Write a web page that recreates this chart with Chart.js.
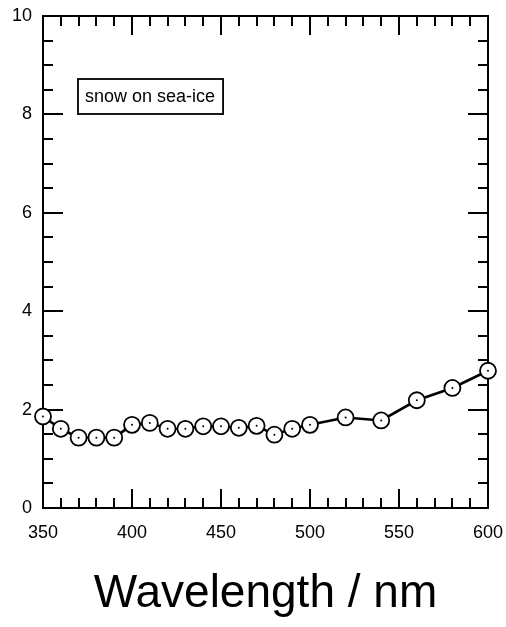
<!DOCTYPE html>
<html>
<head>
<meta charset="utf-8">
<script src="https://cdn.jsdelivr.net/npm/chart.js@4/dist/chart.umd.min.js"></script>
<style>
  html, body { margin: 0; padding: 0; background: #fff; }
  #wrap { width: 506px; height: 627px; position: relative; }
</style>
</head>
<body>
<div id="wrap"><canvas id="specChart"></canvas></div>
<script>
const wavelengths = [350, 360, 370, 380, 390, 400, 410, 420, 430, 440, 450, 460, 470, 480, 490, 500, 520, 540, 560, 580, 600];
const values = [1.86, 1.61, 1.43, 1.43, 1.43, 1.69, 1.73, 1.61, 1.61, 1.66, 1.66, 1.63, 1.67, 1.49, 1.61, 1.69, 1.84, 1.78, 2.19, 2.44, 2.79];
const xTicks = [350, 400, 450, 500, 550, 600];
const yTicks = [0, 2, 4, 6, 8, 10];
const sampleLabel = 'snow on sea-ice';

const points = wavelengths.map((w, i) => ({x: w, y: values[i]}));

// frame, inward ticks on all four sides, and the sample box (under the markers)
const framePlugin = {
    id: 'frame',
    beforeDatasetsDraw(chart) {
        const {ctx, chartArea: a, scales: {x, y}} = chart;
        ctx.save();
        ctx.strokeStyle = '#000';
        ctx.lineWidth = 2;
        ctx.strokeRect(a.left, a.top, a.right - a.left, a.bottom - a.top);
        ctx.beginPath();
        for (let v = x.min; v <= x.max; v += 10) {
            const px = Math.round(x.getPixelForValue(v));
            const len = v % 50 === 0 ? 19 : 10;
            ctx.moveTo(px, a.bottom); ctx.lineTo(px, a.bottom - len);
            ctx.moveTo(px, a.top); ctx.lineTo(px, a.top + len);
        }
        for (let v = y.min; v <= y.max; v += 0.5) {
            const py = Math.round(y.getPixelForValue(v));
            const len = v % 2 === 0 ? 20 : 10;
            ctx.moveTo(a.left, py); ctx.lineTo(a.left + len, py);
            ctx.moveTo(a.right, py); ctx.lineTo(a.right - len, py);
        }
        ctx.stroke();

        ctx.font = '18px "Liberation Sans", Arial, sans-serif';
        const w = ctx.measureText(sampleLabel).width;
        const bx = a.left + 35, by = a.top + 63;
        ctx.lineWidth = 1.8;
        ctx.strokeRect(bx, by, w + 15, 35);
        ctx.fillStyle = '#000';
        ctx.textBaseline = 'middle';
        ctx.fillText(sampleLabel, bx + 7, by + 18);
        ctx.restore();
    }
};

new Chart(document.getElementById('specChart'), {
    type: 'scatter',
    data: {
        datasets: [{
            data: points,
            showLine: true,
            clip: false,
            borderColor: '#000',
            borderWidth: 2.6,
            pointRadius: 8,
            pointBorderWidth: 1.8,
            pointBackgroundColor: '#fff',
            pointBorderColor: '#000'
        }, {
            // centre dots of the markers
            data: points,
            order: -1,
            clip: false,
            showLine: false,
            pointRadius: 1,
            pointBorderWidth: 0,
            pointBackgroundColor: '#000',
            pointBorderColor: '#000'
        }]
    },
    options: {
        responsive: true,
        maintainAspectRatio: false,
        animation: false,
        layout: { padding: { left: 0, top: 16, right: 18, bottom: 0 } },
        plugins: { legend: { display: false }, tooltip: { enabled: false } },
        scales: {
            x: {
                type: 'linear',
                min: 350,
                max: 600,
                afterBuildTicks: s => { s.ticks = xTicks.map(v => ({value: v})); },
                afterFit: s => { s.height = 119; s.paddingLeft = 0; s.paddingRight = 0; },
                grid: { display: false, drawTicks: false },
                border: { display: false },
                ticks: {
                    color: '#000',
                    padding: 14,
                    maxRotation: 0,
                    font: { family: '"Liberation Sans", Arial, sans-serif', size: 18 }
                },
                title: {
                    display: true,
                    text: 'Wavelength / nm',
                    color: '#000',
                    padding: { top: 0, bottom: 5 },
                    font: { family: '"Liberation Sans", Arial, sans-serif', size: 46 }
                }
            },
            y: {
                min: 0,
                max: 10,
                afterBuildTicks: s => { s.ticks = yTicks.map(v => ({value: v})); },
                afterFit: s => { s.width = 43; s.paddingTop = 0; s.paddingBottom = 0; },
                grid: { display: false, drawTicks: false },
                border: { display: false },
                ticks: {
                    color: '#000',
                    padding: 11,
                    font: { family: '"Liberation Sans", Arial, sans-serif', size: 18 }
                }
            }
        }
    },
    plugins: [framePlugin]
});
</script>
</body>
</html>
